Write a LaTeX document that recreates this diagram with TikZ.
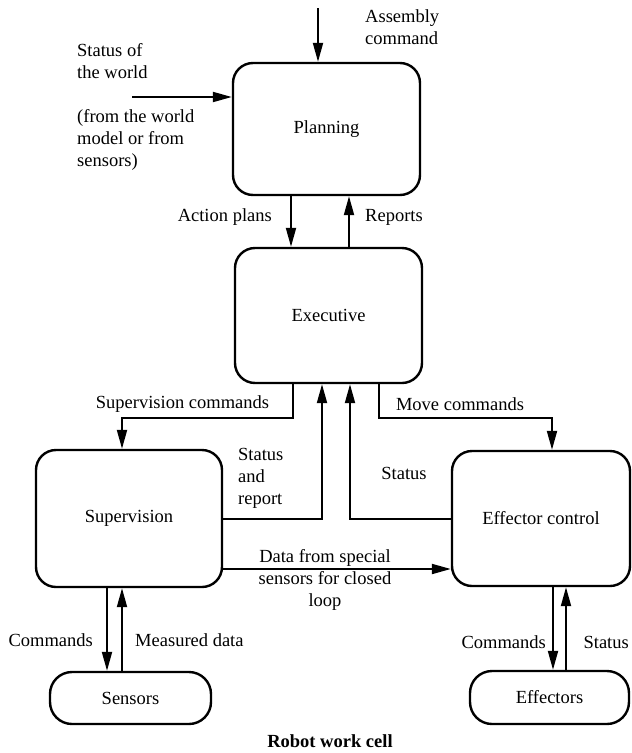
\documentclass[tikz,border=0pt]{standalone}
\usepackage{fontspec}
\setmainfont{Liberation Serif}
\usetikzlibrary{arrows.meta}

\tikzset{
  txt/.style={font=\fontsize{18.5}{22}\selectfont, inner sep=0pt},
  block/.style={txt, draw, line width=2.4pt, rounded corners=20pt, anchor=center},
  pill/.style={txt, draw, line width=2.4pt, rounded corners=22pt, anchor=center},
  flow/.style={line width=2pt, -{Triangle[length=19pt,width=10pt]}},
  lbl/.style={txt, align=left},
}

\begin{document}
\begin{tikzpicture}[x=1pt, y=-1pt]
\useasboundingbox (0,0) rectangle (632,753);

% main blocks
\node[block, minimum width=187pt, minimum height=132pt] (plan) at (326.5,129) {Planning};
\node[block, minimum width=187pt, minimum height=135pt] (exec) at (328.5,315.5) {Executive};
\node[block, minimum width=186pt, minimum height=137pt] (sup)  at (129,518.5) {Supervision};
\node[block, minimum width=178pt, minimum height=135pt] (eff)  at (541,518.5) {Effector control};
\node[pill,  minimum width=161pt, minimum height=52pt]  (sens) at (130.5,698) {Sensors};
\node[pill,  minimum width=159pt, minimum height=53pt]  (effs) at (549.5,697.5) {Effectors};

% free ends of the inputs to planning
\coordinate (asm) at (318,8);
\coordinate (world) at (132,97);

% inputs to planning
\draw[flow] (asm) -- (plan.north -| asm);
\draw[flow] (world) -- (plan.west |- world);
\node[lbl, anchor=west] (asmlbl) at (365,27.5) {Assembly\\command};
\node[lbl, anchor=west] (worldlbl) at (77,61) {Status of\\the world};
\node[lbl, anchor=west] (srclbl) at (77,140) {(from the world\\model or from\\sensors)};

% planning <-> executive
\draw[flow] (plan.south -| 291,0) -- (exec.north -| 291,0);
\draw[flow] (exec.north -| 349,0) -- (plan.south -| 349,0);
\node[txt, anchor=east] (aplbl) at (272,217) {Action plans};
\node[txt, anchor=west] (replbl) at (365,217) {Reports};

% executive -> supervision / effector control
\draw[flow] (exec.south -| 293,0) |- (122,418) -- (sup.north -| 122,0);
\draw[flow] (exec.south -| 379,0) |- (552,418) -- (eff.north -| 552,0);
\node[txt] (svclbl) at (182.5,404) {Supervision commands};
\node[txt] (mvlbl) at (460,404) {Move commands};

% status back to executive
\draw[flow] (sup.east |- 0,519) -| (exec.south -| 322,0);
\draw[flow] (eff.west |- 0,519) -| (exec.south -| 350,0);
\node[lbl, anchor=west] (srlbl) at (238,478) {Status\\and\\report};
\node[txt] (stlbl) at (404,473) {Status};

% closed-loop sensor data
\draw[flow] (sup.east |- 0,569) -- (eff.west |- 0,569);
\node[txt, align=center] (datalbl) at (325,580) {Data from special\\sensors for closed\\loop};

% supervision <-> sensors
\draw[flow] (sup.south -| 107,0) -- (sens.north -| 107,0);
\draw[flow] (sens.north -| 122,0) -- (sup.south -| 122,0);
\node[txt, anchor=east] (scmd) at (93,640) {Commands};
\node[txt, anchor=west] (smeas) at (135,640) {Measured data};

% effector control <-> effectors
\draw[flow] (eff.south -| 553,0) -- (effs.north -| 553,0);
\draw[flow] (effs.north -| 566,0) -- (eff.south -| 566,0);
\node[txt, anchor=east] (ecmd) at (546,642) {Commands};
\node[txt, anchor=east] (estat) at (629,642) {Status};

% caption
\node[txt, font=\fontsize{18.5}{22}\selectfont\bfseries] (cap) at (330,741) {Robot work cell};
\end{tikzpicture}
\end{document}
